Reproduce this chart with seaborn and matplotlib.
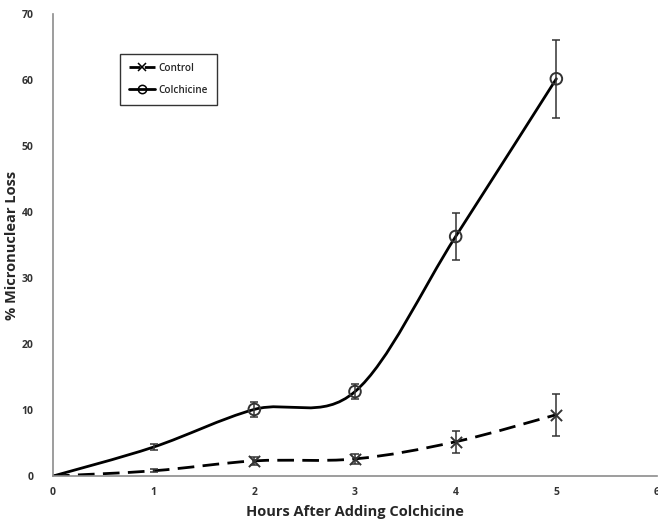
import numpy as np
import pandas as pd
import matplotlib
matplotlib.use("Agg")
import matplotlib.pyplot as plt
import seaborn as sns
from matplotlib.path import Path
from matplotlib.patches import PathPatch
from matplotlib.lines import Line2D

hours = [0, 1, 2, 3, 4, 5]
control = [0, 0.8, 2.3, 2.6, 5.2, 9.3]
control_err = [0, 0.2, 0.6, 0.8, 1.7, 3.2]
colchicine = [0, 4.4, 10.1, 12.8, 36.3, 60.2]
colchicine_err = [0, 0.4, 1.1, 1.1, 3.6, 5.9]


def smooth_path(x, y):
    # excel-style smoothed line: cubic bezier with catmull-rom handles
    x = np.asarray(x, float)
    y = np.asarray(y, float)
    n = len(x)
    verts = [(x[0], y[0])]
    codes = [Path.MOVETO]
    for i in range(n - 1):
        xp, yp = (x[i - 1], y[i - 1]) if i > 0 else (x[i], y[i])
        xn, yn = (x[i + 2], y[i + 2]) if i + 2 < n else (x[i + 1], y[i + 1])
        c1 = (x[i] + (x[i + 1] - xp) / 6, y[i] + (y[i + 1] - yp) / 6)
        c2 = (x[i + 1] - (xn - x[i]) / 6, y[i + 1] - (yn - y[i]) / 6)
        verts += [c1, c2, (x[i + 1], y[i + 1])]
        codes += [Path.CURVE4] * 3
    return Path(verts, codes)


sns.set_style("white")
plt.rcParams['font.family'] = ['Open Sans', 'DejaVu Sans']

df = pd.DataFrame({"Hours": hours, "Control": control, "Colchicine": colchicine})

fig = plt.figure(figsize=(6.58, 5.22), dpi=100)
ax = fig.add_axes([0.0805, 0.088, 0.918, 0.885])

ax.add_patch(PathPatch(smooth_path(hours, colchicine), fill=False, lw=2.0,
                       color="black", capstyle="round"))
ax.add_patch(PathPatch(smooth_path(hours, control), fill=False, lw=2.0,
                       color="black", linestyle=(0, (6, 3))))

ax.errorbar(hours[1:], colchicine[1:], yerr=colchicine_err[1:], fmt="none",
            ecolor="#333333", elinewidth=1.1, capsize=2.8, capthick=1.1)
ax.errorbar(hours[1:], control[1:], yerr=control_err[1:], fmt="none",
            ecolor="#333333", elinewidth=1.1, capsize=2.8, capthick=1.1)

# markers only from hour 2 onward, as in the original
sns.scatterplot(data=df[2:], x="Hours", y="Colchicine", marker="o", s=70,
                facecolor="none", edgecolor="#333333", linewidth=1.4, ax=ax, zorder=3)
sns.scatterplot(data=df[2:], x="Hours", y="Control", marker="x", s=65,
                color="#333333", linewidth=1.4, ax=ax, zorder=3)

ax.set_xlim(0, 6)
ax.set_ylim(0, 70)
ax.set_xticks(range(0, 7))
ax.set_yticks(range(0, 71, 10))
ax.tick_params(axis="both", length=0, labelsize=7.5, colors="#333333")
ax.tick_params(axis="x", pad=8)
ax.tick_params(axis="y", pad=14)
for lab in ax.get_xticklabels() + ax.get_yticklabels():
    lab.set_fontweight("bold")

for side in ["top", "right"]:
    ax.spines[side].set_visible(False)
for side in ["left", "bottom"]:
    ax.spines[side].set_color("#8c8c8c")
    ax.spines[side].set_linewidth(1.2)

ax.set_xlabel("Hours After Adding Colchicine", fontsize=10.5, fontweight="bold",
              family=["Open Sans", "DejaVu Sans"], labelpad=5)
ax.set_ylabel("% Micronuclear Loss", fontsize=10.5, fontweight="bold",
              family=["Open Sans", "DejaVu Sans"], labelpad=2)

handles = [
    Line2D([], [], color="black", lw=2.0, ls=(0, (4, 1.5)), marker="x",
           markersize=6, markeredgewidth=1.1),
    Line2D([], [], color="black", lw=2.0, marker="o", markersize=6,
           markerfacecolor="none", markeredgewidth=1.1),
]
leg = ax.legend(handles, ["Control", "Colchicine"], loc="upper left",
                bbox_to_anchor=(0.103, 0.925), fontsize=7.2, frameon=True,
                fancybox=False, edgecolor="black", handlelength=2.6,
                handletextpad=0.3, borderpad=0.9, labelspacing=1.1)
leg.get_frame().set_linewidth(1.0)
for t in leg.get_texts():
    t.set_fontweight("semibold")

fig.savefig("out.png", dpi=100)
